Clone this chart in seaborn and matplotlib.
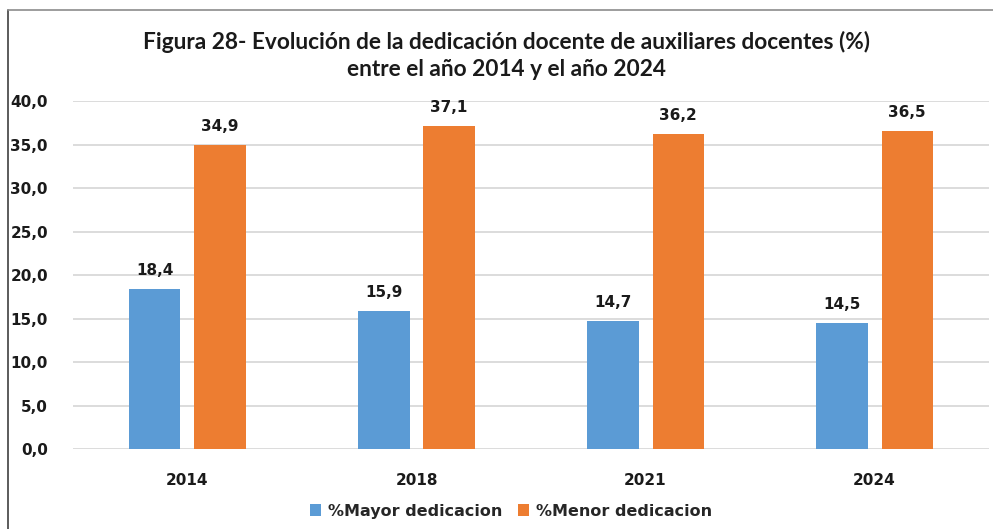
import pandas as pd
import matplotlib.pyplot as plt
import seaborn as sns
from matplotlib.lines import Line2D

sns.set_style('white')
plt.rcParams['font.family'] = ['DejaVu Sans']

# data
years = ['2014', '2018', '2021', '2024']
mayor = [18.4, 15.9, 14.7, 14.5]
menor = [34.9, 37.1, 36.2, 36.5]
series = ['%Mayor dedicacion', '%Menor dedicacion']
colors = ['#5B9BD5', '#ED7D31']

df = pd.DataFrame({
    'year': years * 2,
    'value': mayor + menor,
    'serie': [series[0]] * len(years) + [series[1]] * len(years),
})

fig = plt.figure(figsize=(9.93, 5.29), dpi=100)
ax = fig.add_axes([0.0735, 0.151, 0.9225, 0.658])

sns.barplot(data=df, x='year', y='value', hue='serie', palette=colors,
            width=0.568, gap=0.215, saturation=1, linewidth=0, ax=ax, legend=True)

# data labels with comma decimal
for cont in ax.containers:
    labels = [('%.1f' % b.get_height()).replace('.', ',') for b in cont]
    ax.bar_label(cont, labels=labels, padding=8, fontsize=11,
                 fontweight='bold', color='#1a1a1a')

ax.set_ylim(0, 40)
ax.set_xlim(-0.5, 3.5)
ax.set_yticks(range(0, 41, 5))
ax.set_yticklabels([('%.1f' % v).replace('.', ',') for v in range(0, 41, 5)],
                   fontsize=11, fontweight='bold', color='#1a1a1a')
for t in ax.get_xticklabels():
    t.set_fontsize(11)
    t.set_fontweight('bold')
    t.set_color('#1a1a1a')
ax.tick_params(axis='y', length=0, pad=18)
ax.tick_params(axis='x', length=0, pad=17)
ax.set_xlabel('')
ax.set_ylabel('')
ax.yaxis.grid(True, color='#d9d9d9', linewidth=1.3)
ax.set_axisbelow(True)
for s in ax.spines.values():
    s.set_visible(False)

# legend at the bottom
ax.legend(loc='center', bbox_to_anchor=(511 / 993, 0.034),
          bbox_transform=fig.transFigure, ncol=2, frameon=False,
          handlelength=0.7, handleheight=0.7, handletextpad=0.4,
          columnspacing=1.0, prop={'size': 11.5, 'weight': 'bold'})

# title
fig.text(506 / 993, 1 - 42 / 529,
         'Figura 28- Evolución de la dedicación docente de auxiliares docentes (%)',
         ha='center', va='center', fontsize=16.3, fontweight='bold',
         family=['Lato', 'DejaVu Sans'], color='#1a1a1a')
fig.text(506 / 993, 1 - 69 / 529, 'entre el año 2014 y el año 2024',
         ha='center', va='center', fontsize=16.3, fontweight='bold',
         family=['Lato', 'DejaVu Sans'], color='#1a1a1a')

# frame lines on the left and top edges
fig.add_artist(Line2D([8 / 993, 8 / 993], [0, 1 - 10 / 529], color='#404040', linewidth=1.2))
fig.add_artist(Line2D([8 / 993, 1], [1 - 10 / 529, 1 - 10 / 529], color='#8c8c8c', linewidth=1.2))

fig.savefig('out.png', dpi=100)
